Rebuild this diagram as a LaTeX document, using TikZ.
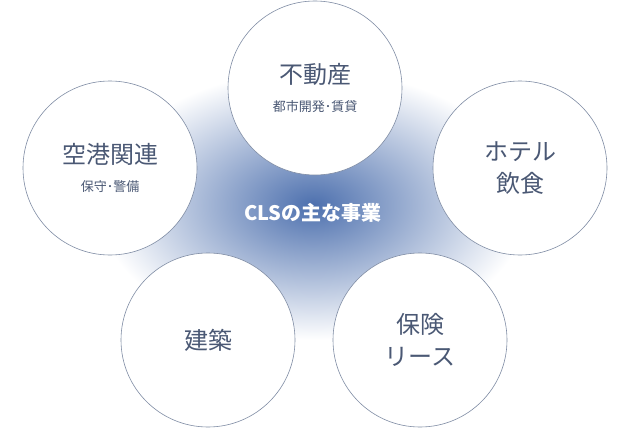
\documentclass[tikz,border=0pt]{standalone}
\usepackage{fontspec}
\setmainfont{Noto Sans CJK JP}
\definecolor{inkblue}{HTML}{4A5874}
\definecolor{glowblue}{HTML}{4D70AE}
\definecolor{ringgray}{HTML}{7F8CA4}
\newcommand{\subtext}[1]{{\fontsize{13}{15}\selectfont #1}}
\begin{document}
\begin{tikzpicture}[x=1pt, y=1pt,
    biz/.style={circle, draw=ringgray, line width=0.6pt, fill=white,
      minimum size=174pt, inner sep=0pt, align=center, text=inkblue,
      font=\fontsize{24}{32}\selectfont}]
  \useasboundingbox[fill=white] (0,0) rectangle (629,-428);

  % Draw the glow behind the circles
  \shade[inner color=glowblue, outer color=white] (313,-205) ellipse (215 and 135);

  % Draw the business circles
  \node[biz] (realestate) at (315,-88) {不動産\\[-4pt]\subtext{都市開発･賃貸}};
  \node[biz] (airport) at (110,-168) {空港関連\\[-4pt]\subtext{保守･警備}};
  \node[biz] (hotel) at (520,-168) {ホテル\\飲食};
  \node[biz] (build) at (208,-340) {建築};
  \node[biz] (insure) at (420,-340) {保険\\リース};

  \node[text=white, font=\bfseries\fontsize{20}{22}\selectfont] (core) at (313,-213) {CLSの主な事業};
\end{tikzpicture}
\end{document}
